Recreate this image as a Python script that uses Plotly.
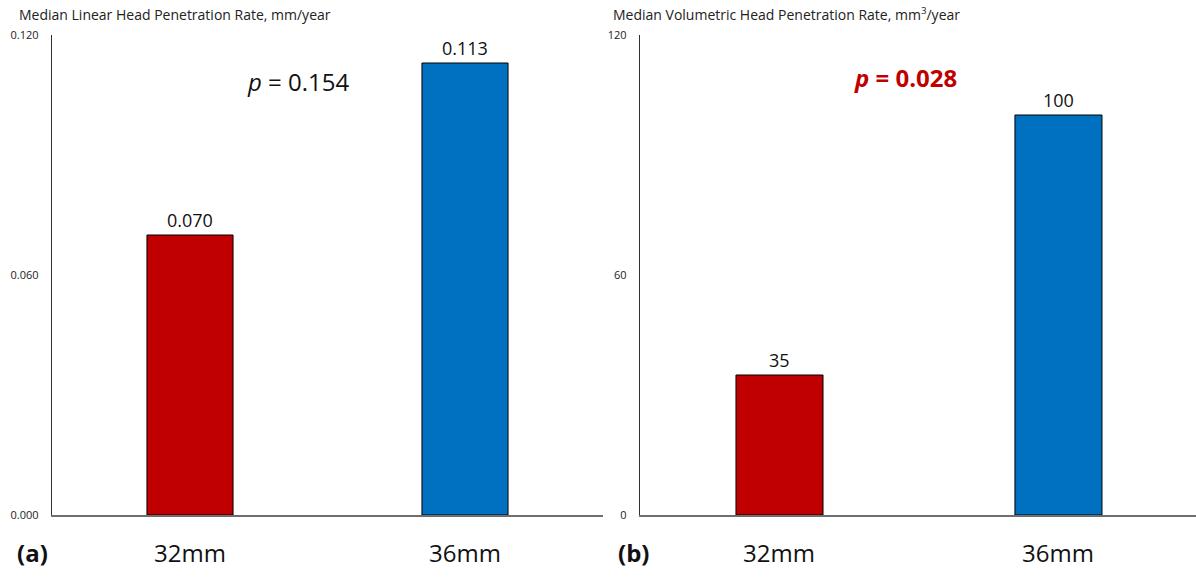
import plotly.graph_objects as go

W, H = 1196, 577

categories = ["32mm", "36mm"]
linear_values = [0.070, 0.113]
linear_labels = ["0.070", "0.113"]
volumetric_values = [35, 100]
volumetric_labels = ["35", "100"]
linear_ticks = [0, 0.06, 0.12]
linear_ticktext = ["0.000", "0.060", "0.120"]
volumetric_ticks = [0, 60, 120]
volumetric_ticktext = ["0", "60", "120"]
bar_colors = ["#C00000", "#0070C0"]
titles = ["Median Linear Head Penetration Rate, mm/year",
          "Median Volumetric Head Penetration Rate, mm<sup>3</sup>/year"]
p_texts = ["<i>p</i> = 0.154", "<b><i>p</i> = 0.028</b>"]
panel_tags = ["(a)", "(b)"]

FONT = "Open Sans"
xs = [0, 1]

fig = go.Figure()
fig.add_trace(go.Bar(x=xs, y=linear_values, width=0.313,
                     marker=dict(color=bar_colors, line=dict(color="#000000", width=1)),
                     xaxis="x", yaxis="y", showlegend=False, hoverinfo="skip"))
fig.add_trace(go.Bar(x=xs, y=volumetric_values, width=0.312,
                     marker=dict(color=bar_colors, line=dict(color="#000000", width=1)),
                     xaxis="x2", yaxis="y2", showlegend=False, hoverinfo="skip"))

ydom = [62 / H, 542 / H]
common_x = dict(showgrid=False, zeroline=False, showticklabels=False, ticks="",
                showline=True, linecolor="#6e6e6e", linewidth=1.5, fixedrange=True,
                automargin=False)
common_y = dict(showgrid=False, zeroline=False, ticks="", showline=True,
                linecolor="#303030", linewidth=1.2, tickfont=dict(family=FONT, size=11, color="#222"),
                ticklabelstandoff=10, fixedrange=True, automargin=False)

fig.update_layout(
    template="none",
    width=W, height=H, margin=dict(l=0, r=0, t=0, b=0, pad=0), autosize=False,
    paper_bgcolor="white", plot_bgcolor="white",
    xaxis=dict(domain=[52 / W, 603 / W], range=[-0.5018, 1.5018], anchor="y", **common_x),
    yaxis=dict(domain=ydom, range=[0, 0.12], tickvals=linear_ticks, ticktext=linear_ticktext,
               anchor="x", **common_y),
    xaxis2=dict(domain=[640 / W, 1.0], range=[-0.5, 1.493], anchor="y2", **common_x),
    yaxis2=dict(domain=ydom, range=[0, 120], tickvals=volumetric_ticks, ticktext=volumetric_ticktext,
                anchor="x2", **common_y),
)

ann = []
# titles
ann.append(dict(text=titles[0], xref="paper", yref="paper", x=17 / W, y=1 - 14 / H,
                xanchor="left", yanchor="middle", showarrow=False,
                font=dict(family=FONT, size=14, color="#222")))
ann.append(dict(text=titles[1], xref="paper", yref="paper", x=611 / W, y=1 - 14 / H,
                xanchor="left", yanchor="middle", showarrow=False,
                font=dict(family=FONT, size=14, color="#222")))
# value labels and category labels
for xr, yr, vals, labs in [("x", "y", linear_values, linear_labels),
                           ("x2", "y2", volumetric_values, volumetric_labels)]:
    for xi, v, lab in zip(xs, vals, labs):
        ann.append(dict(text=lab, xref=xr, yref=yr, x=xi, y=v, xanchor="center",
                        yanchor="bottom", yshift=1, showarrow=False,
                        font=dict(family=FONT, size=18, color="#111")))
    for xi, cat in zip(xs, categories):
        ann.append(dict(text=cat, xref=xr, yref="paper", x=xi, y=1 - 552 / H,
                        xanchor="center", yanchor="middle", showarrow=False,
                        font=dict(family=FONT, size=24, color="#111")))
# panel tags
ann.append(dict(text="<b>" + panel_tags[0] + "</b>", xref="paper", yref="paper", x=15 / W,
                y=1 - 552 / H, xanchor="left", yanchor="middle", showarrow=False,
                font=dict(family=FONT, size=24, color="#111")))
ann.append(dict(text="<b>" + panel_tags[1] + "</b>", xref="paper", yref="paper", x=616 / W,
                y=1 - 552 / H, xanchor="left", yanchor="middle", showarrow=False,
                font=dict(family=FONT, size=24, color="#111")))
# p values
ann.append(dict(text=p_texts[0], xref="paper", yref="paper", x=298 / W, y=1 - 81 / H,
                xanchor="center", yanchor="middle", showarrow=False,
                font=dict(family=FONT, size=24, color="#111")))
ann.append(dict(text=p_texts[1], xref="paper", yref="paper", x=905 / W, y=1 - 78 / H,
                xanchor="center", yanchor="middle", showarrow=False,
                font=dict(family=FONT, size=24, color="#C00000")))

fig.update_layout(annotations=ann)
fig.write_html("out.html", config={"displayModeBar": False, "staticPlot": True},
               post_script="document.body.style.margin='0';document.body.style.overflow='hidden';")
